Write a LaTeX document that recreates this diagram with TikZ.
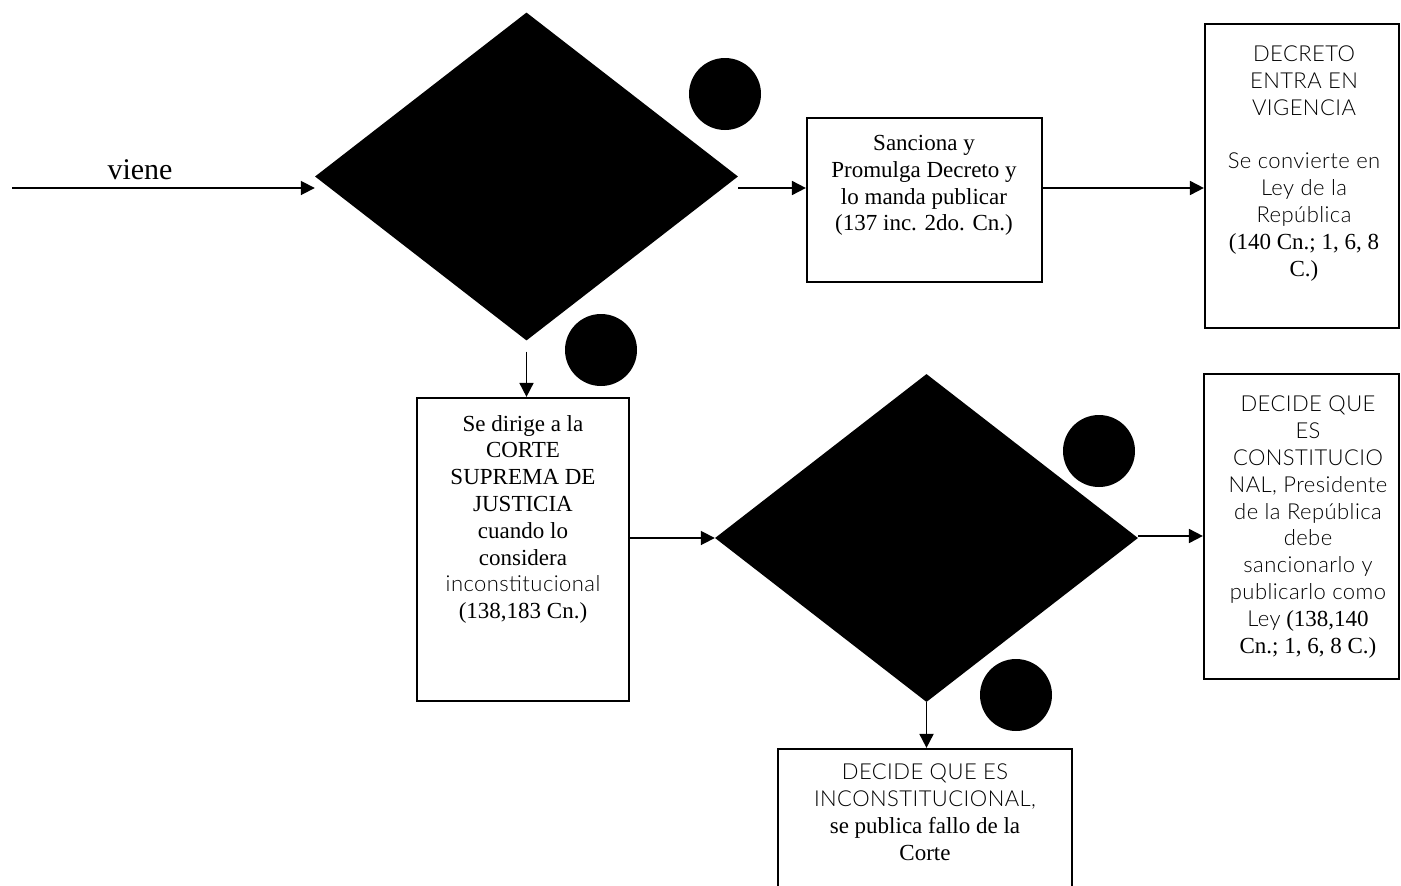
\documentclass[tikz,border=0pt]{standalone}
\usepackage{fontspec}
\setmainfont{Liberation Serif}
\newfontfamily\thinsans[LetterSpace=2]{Lato Light}
\usetikzlibrary{arrows.meta,shapes.geometric}
% light sans-serif run inside the serif text
\newcommand\sn[1]{{\thinsans\fontsize{22}{26.5}\selectfont #1}}

\begin{document}
\begin{tikzpicture}[x=1pt,y=-1pt,
  proc/.style={draw, line width=2.2pt, inner sep=0pt},
  arr/.style={line width=1.8pt, -{Triangle[length=14pt,width=14pt]}},
  dot/.style={circle, fill=black, inner sep=0pt, minimum size=72pt},
  decision/.style={diamond, fill=black, inner sep=0pt, minimum width=423pt, minimum height=328pt},
  txt/.style={anchor=north, align=center, inner sep=0pt, font=\fontsize{23}{26.8}\selectfont}]
\useasboundingbox (0,0) rectangle (1401,886);

% decisions
\node[decision] (q1) at (526.5,176.5) {};
\node[decision] (q2) at (926.5,538) {};

% numbered markers
\node[dot] (m1) at (725,94) {};
\node[dot] (m2) at (601,350) {};
\node[dot] (m3) at (1099,451) {};
\node[dot] (m4) at (1016,695) {};

% process boxes
\node[proc, minimum width=235pt, minimum height=164pt] (sanc) at (924.5,200) {};
\node[proc, minimum width=194pt, minimum height=304pt] (decr) at (1302,176) {};
\node[proc, minimum width=195pt, minimum height=305pt] (cte) at (1301.5,526.5) {};
\node[proc, minimum width=212pt, minimum height=303pt] (corte) at (523,549.5) {};
\node[proc, minimum width=294pt, minimum height=151pt] (fallo) at (925,824.5) {};

% box texts
\node[txt] (tsanc) at (924,135) {Sanciona y\\Promulga Decreto y\\lo manda publicar\\(137 inc. 2do. Cn.)};
\node[txt] (tdecr) at (1304,46) {\sn{DECRETO}\\\sn{ENTRA EN}\\\sn{VIGENCIA}\\[26.5pt]\sn{Se convierte en}\\\sn{Ley de la}\\\sn{República}\\(140 Cn.; 1, 6, 8\\C.)};
\node[txt] (tcte) at (1308,396) {\sn{DECIDE QUE}\\\sn{ES}\\\sn{CONSTITUCIO}\\\sn{NAL, Presidente}\\\sn{de la República}\\\sn{debe}\\\sn{sancionarlo y}\\\sn{publicarlo como}\\\sn{Ley} (138,140\\Cn.; 1, 6, 8 C.)};
\node[txt] (tcorte) at (523,415) {Se dirige a la\\CORTE\\SUPREMA DE\\JUSTICIA\\cuando lo\\considera\\\sn{inconstitucional}\\(138,183 Cn.)};
\node[txt] (tfallo) at (925,764) {\sn{DECIDE QUE ES}\\\sn{INCONSTITUCIONAL,}\\se publica fallo de la\\Corte};

% incoming flow
\coordinate (src) at (12,188);
\node[anchor=base, inner sep=0pt, font=\fontsize{30}{34}\selectfont] (lbl) at (140,179) {viene};

% connectors
\coordinate (q1out) at ([yshift=-11pt]q1.south);
\coordinate (q2out) at ([yshift=2pt]q2.east);
\draw[arr] (src) -- (q1.west |- src);
\draw[arr] (q1.east |- src) -- (sanc.west |- src);
\draw[arr] (sanc.east |- src) -- (decr.west |- src);
\draw[arr] (q1out) -- (q1out |- corte.north);
\draw[arr] (corte.east |- q2.west) -- (q2.west);
\draw[arr] (q2out) -- (cte.west |- q2out);
\draw[arr] (q2.south) -- (q2.south |- fallo.north);
\end{tikzpicture}
\end{document}
